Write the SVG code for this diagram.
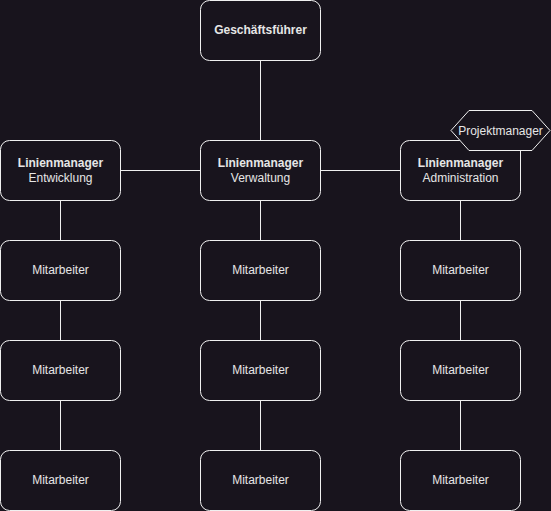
<svg xmlns="http://www.w3.org/2000/svg" width="551" height="511" viewBox="0 0 551 511">
<style>
.bg{fill:#18141d}
.box{fill:#18141d;stroke:#f0f0f0;stroke-width:1}
.ln{stroke:#f0f0f0;stroke-width:1;fill:none}
text{font-family:"Liberation Sans",Arial,sans-serif;font-size:12px;fill:#e6e6e6;text-anchor:middle}
.b{font-weight:bold}
</style>
<rect class="bg" x="0" y="0" width="551" height="511"/>
<g id="connectors">
<path class="ln" d="M260.5 60V140M120.5 170.5H200.5M320.5 170.5H400.5"/>
<path class="ln" d="M60.5 200V240M60.5 300V340M60.5 400V450"/>
<path class="ln" d="M260.5 200V240M260.5 300V340M260.5 400V450"/>
<path class="ln" d="M460.5 200V240M460.5 300V340M460.5 400V450"/>
</g>
<g id="gf"><rect class="box" x="200.5" y="0.5" width="120" height="60" rx="9"/><text class="b" x="260.5" y="34">Geschäftsführer</text></g>
<g id="lm-entw"><rect class="box" x="0.5" y="140.5" width="120" height="60" rx="9"/><text class="b" x="60.5" y="167">Linienmanager</text><text x="60.5" y="182">Entwicklung</text></g>
<g id="lm-verw"><rect class="box" x="200.5" y="140.5" width="120" height="60" rx="9"/><text class="b" x="260.5" y="167">Linienmanager</text><text x="260.5" y="182">Verwaltung</text></g>
<g id="lm-adm"><rect class="box" x="400.5" y="140.5" width="120" height="60" rx="9"/><text class="b" x="460.5" y="167">Linienmanager</text><text x="460.5" y="182">Administration</text></g>
<g id="pm"><polygon class="box" points="451,130.5 469,110.5 532,110.5 550,130.5 532,150.5 469,150.5"/><text x="500.5" y="134.5">Projektmanager</text></g>
<g id="m-e1"><rect class="box" x="0.5" y="240.5" width="120" height="60" rx="9"/><text x="60.5" y="274">Mitarbeiter</text></g>
<g id="m-e2"><rect class="box" x="0.5" y="340.5" width="120" height="60" rx="9"/><text x="60.5" y="374">Mitarbeiter</text></g>
<g id="m-e3"><rect class="box" x="0.5" y="450.5" width="120" height="60" rx="9"/><text x="60.5" y="484">Mitarbeiter</text></g>
<g id="m-v1"><rect class="box" x="200.5" y="240.5" width="120" height="60" rx="9"/><text x="260.5" y="274">Mitarbeiter</text></g>
<g id="m-v2"><rect class="box" x="200.5" y="340.5" width="120" height="60" rx="9"/><text x="260.5" y="374">Mitarbeiter</text></g>
<g id="m-v3"><rect class="box" x="200.5" y="450.5" width="120" height="60" rx="9"/><text x="260.5" y="484">Mitarbeiter</text></g>
<g id="m-a1"><rect class="box" x="400.5" y="240.5" width="120" height="60" rx="9"/><text x="460.5" y="274">Mitarbeiter</text></g>
<g id="m-a2"><rect class="box" x="400.5" y="340.5" width="120" height="60" rx="9"/><text x="460.5" y="374">Mitarbeiter</text></g>
<g id="m-a3"><rect class="box" x="400.5" y="450.5" width="120" height="60" rx="9"/><text x="460.5" y="484">Mitarbeiter</text></g>
</svg>
